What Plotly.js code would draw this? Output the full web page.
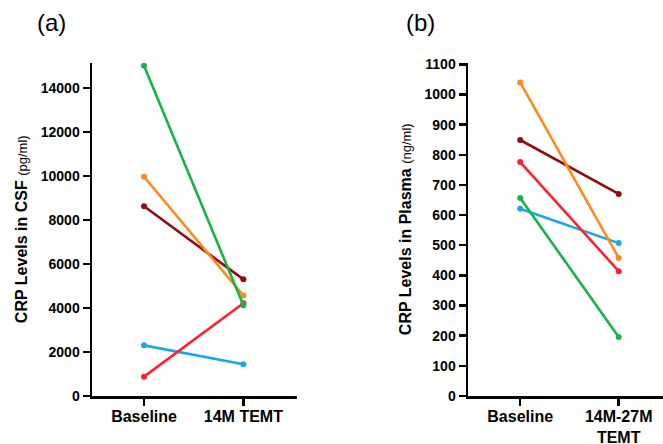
<!DOCTYPE html>
<html>
<head>
<meta charset="utf-8">
<script src="https://cdn.plot.ly/plotly-3.0.1.min.js"></script>
<style>html,body{margin:0;padding:0;background:#fff;}#chart{width:663px;height:444px;}</style>
</head>
<body>
<div id="chart"></div>
<script>
const categoriesA = ["Baseline", "14M TEMT"];
const categoriesB = ["Baseline", "14M-27M<br>TEMT"];
const seriesNames = ["Blue", "Red", "Dark red", "Orange", "Green"];
const seriesColors = ["#1aa7e8", "#ff2030", "#8e0c12", "#ff8a1c", "#17b34a"];
const csfBlue = [2300, 1440];
const csfRed = [880, 4210];
const csfDarkRed = [8620, 5300];
const csfOrange = [9960, 4560];
const csfGreen = [15000, 4120];
const plasmaBlue = [621, 507];
const plasmaRed = [776, 414];
const plasmaDarkRed = [849, 670];
const plasmaOrange = [1040, 458];
const plasmaGreen = [657, 196];
const ticksA = [0, 2000, 4000, 6000, 8000, 10000, 12000, 14000];
const ticksB = [0, 100, 200, 300, 400, 500, 600, 700, 800, 900, 1000, 1100];

const csf = [csfBlue, csfRed, csfDarkRed, csfOrange, csfGreen];
const plasma = [plasmaBlue, plasmaRed, plasmaDarkRed, plasmaGreen, plasmaOrange];
const plasmaOrder = [0, 1, 2, 4, 3];

const traces = [];
csf.forEach((vals, i) => {
  traces.push({
    x: [0, 1], y: vals, type: "scatter", mode: "lines+markers",
    name: seriesNames[i], xaxis: "x", yaxis: "y",
    line: {color: seriesColors[i], width: 2.6},
    marker: {color: seriesColors[i], size: 6},
    showlegend: false, hoverinfo: "y"
  });
});
plasma.forEach((vals, k) => {
  const i = plasmaOrder[k];
  traces.push({
    x: [0, 1], y: vals, type: "scatter", mode: "lines+markers",
    name: seriesNames[i], xaxis: "x2", yaxis: "y2",
    line: {color: seriesColors[i], width: 2.6},
    marker: {color: seriesColors[i], size: 6},
    showlegend: false, hoverinfo: "y"
  });
});

const W = 663, H = 444;
const yDom = [(H - 396) / H, (H - 62.5) / H];
const font = {family: "Arial, Liberation Sans, sans-serif", color: "#000"};
const axisCommon = {
  showgrid: false, zeroline: false, showline: true, linecolor: "#000", linewidth: 2.5,
  ticks: "outside", ticklen: 7, tickwidth: 2.5, tickcolor: "#000", fixedrange: true
};

const layout = {
  width: W, height: H,
  margin: {l: 0, r: 0, t: 0, b: 0},
  paper_bgcolor: "#fff", plot_bgcolor: "#fff",
  font: font,
  xaxis: Object.assign({}, axisCommon, {
    domain: [92 / W, 297 / W], range: [-0.524, 1.54], anchor: "y",
    tickvals: [0, 1], ticktext: categoriesA, ticklabelstandoff: -3,
    tickfont: {family: font.family, size: 16, color: "#000", weight: "bold"}
  }),
  yaxis: Object.assign({}, axisCommon, {
    domain: yDom, range: [0, 15150], anchor: "x",
    tickvals: ticksA, ticktext: ticksA.map(String),
    tickfont: {family: font.family, size: 14, color: "#000", weight: "bold"},
    title: {text: "<b>CRP Levels in CSF</b> <span style='font-size:13px'>(pg/ml)</span>",
            font: {family: font.family, size: 16, color: "#000"}, standoff: 9}
  }),
  xaxis2: Object.assign({}, axisCommon, {
    domain: [468 / W, 1], range: [-0.53, 1.45], anchor: "y2",
    tickvals: [0, 1], ticktext: categoriesB, ticklabelstandoff: -3,
    tickfont: {family: font.family, size: 16, color: "#000", weight: "bold"}
  }),
  yaxis2: Object.assign({}, axisCommon, {
    domain: yDom, range: [0, 1106], anchor: "x2",
    tickvals: ticksB, ticktext: ticksB.map(String),
    tickfont: {family: font.family, size: 14, color: "#000", weight: "bold"},
    title: {text: "<b>CRP Levels in Plasma</b> <span style='font-size:13px'>(ng/ml)</span>",
            font: {family: font.family, size: 16, color: "#000"}, standoff: 9}
  }),
  annotations: [
    {text: "(a)", xref: "paper", yref: "paper", x: 51 / W, y: (H - 22) / H,
     xanchor: "center", yanchor: "middle", showarrow: false,
     font: {family: font.family, size: 24, color: "#000"}},
    {text: "(b)", xref: "paper", yref: "paper", x: 420 / W, y: (H - 22) / H,
     xanchor: "center", yanchor: "middle", showarrow: false,
     font: {family: font.family, size: 24, color: "#000"}}
  ]
};

Plotly.newPlot("chart", traces, layout, {displayModeBar: false, staticPlot: true});
</script>
</body>
</html>
